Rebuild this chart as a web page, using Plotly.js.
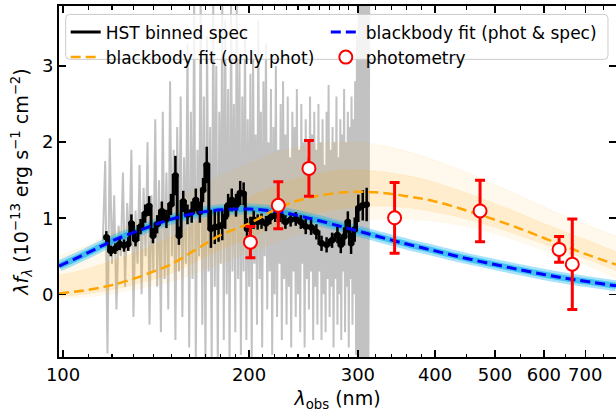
<!DOCTYPE html>
<html>
<head>
<meta charset="utf-8">
<script src="https://cdn.plot.ly/plotly-3.0.1.min.js"></script>
<style>html,body{margin:0;padding:0;background:#fff;}#chart{width:616px;height:415px;}</style>
</head>
<body>
<div id="chart"></div>
<script>
// ---- raw HST spectrum (grey), starts at 116 nm with 1 nm sampling ----
const rawStart = 116;
const rawStep = 1;
const rawFlux = [
 0.7, 1.75, -0.78, 2.05, 0.4, 1.3, -0.2, 0.9, 0.5, 1.6,
 0.1, 1.2, 0.6, 1.9, -0.3, 1.1, 0.4, 1.7, 0.0, 1.4,
 0.5, 2.0, -0.4, 1.3, 0.3, 2.3, 0.1, 1.5, -0.5, 2.4,
 0.2, 1.6, -0.2, 2.8, 0.5, 1.9, -0.6, 2.2, 0.3, 2.6,
 -0.3, 1.8, 0.4, 3.3, -0.7, 2.4, 0.2, 3.9, -0.9, 1.9,
 0.5, 4.0, -0.4, 2.6, -1.0, 3.4, 0.3, 2.2, -0.9, 4.0,
 0.1, 3.0, -1.0, 2.4, 0.4, 4.0, -0.6, 3.6, 0.0, 2.7,
 -1.0, 3.9, 0.3, 2.5, -0.5, 4.0, 0.2, 3.1, -0.8, 2.6,
 0.3, 3.5, -0.6, 2.3, 0.1, 2.9, -0.9, 3.2, 0.4, 2.1,
 -0.4, 3.6, 0.2, 2.4, -0.7, 2.8, 0.5, 3.3, -0.2, 2.0,
 0.3, 2.7, -0.8, 2.2, 0.0, 3.0, -0.3, 1.9, 0.4, 2.5,
 -0.6, 2.8, 0.2, 2.1, -0.4, 2.6, 0.1, 1.8, -0.7, 2.4,
 0.3, 2.2, -0.3, 2.7, 0.0, 1.9, -0.5, 2.5, 0.4, 2.0,
 -0.7, 2.3, 0.2, 1.8, -0.2, 2.6, 0.3, 2.1, -0.6, 2.4,
 0.1, 1.9, -0.4, 2.5, 0.3, 2.0, -0.6, 2.3, 0.0, 1.7,
 -0.5, 2.4, 0.2, 2.75, -0.3, 1.9, 0.1, 2.2, -0.7, 2.0,
 0.2, 2.6, -0.4, 1.8, 0.0, 2.3, -0.6, 2.1, 0.3, 2.7,
 -0.5, 2.0, 0.1, 2.4, -0.7, 2.2, 0.2, 2.6, -0.4, 2.3,
 0.0, 2.8, -0.8, 3.4, -1.0, 4.0, -1.0, 4.0, -1.0, 4.0,
 -1.0, 4.0, -1.0, 4.0, -1.0, 4.0, -1.0, 4.0
];

// ---- binned HST spectrum ----
const binWave = [117.5, 119.5, 121.5, 123.5, 125.5, 127.5, 129.0, 131.0, 133.5, 135.8,
 137.8, 139.8, 142.0, 144.5, 147.0, 149.5, 152.0, 154.0, 156.5, 159.0,
 161.5, 164.0, 166.5, 168.5, 170.8, 173.5, 176.0, 178.5, 181.0, 183.0,
 185.0, 187.5, 190.5, 193.5, 196.0, 198.5, 201.0, 203.5, 206.5, 209.5,
 213.0, 216.5, 220.5, 224.5, 229.0, 233.5, 238.0, 242.5, 247.0, 252.0,
 257.0, 262.0, 267.0, 272.5, 278.0, 281.5, 285.0, 289.0, 292.5, 296.5,
 300.5, 305.5, 310.0];
const binFlux = [0.75, 0.57, 0.60, 0.66, 0.64, 0.66, 0.93, 0.72, 0.89, 1.06,
 1.16, 0.77, 0.92, 1.09, 0.99, 1.18, 1.56, 0.77, 1.22, 1.05,
 1.08, 1.24, 1.08, 1.37, 1.70, 0.86, 0.88, 0.89, 0.91, 1.02,
 1.17, 1.24, 1.17, 1.33, 1.32, 0.86, 0.90, 0.98, 0.95, 0.96,
 0.93, 1.01, 1.04, 1.04, 0.95, 0.98, 0.99, 0.95, 0.89, 0.88,
 0.82, 0.67, 0.65, 0.71, 0.78, 0.65, 0.76, 0.95, 0.67, 0.85,
 1.13, 1.17, 1.18];
const binErr = [0.08, 0.07, 0.07, 0.08, 0.08, 0.09, 0.12, 0.09, 0.10, 0.12,
 0.13, 0.10, 0.12, 0.13, 0.12, 0.14, 0.26, 0.12, 0.14, 0.13,
 0.14, 0.15, 0.14, 0.16, 0.24, 0.25, 0.22, 0.20, 0.20, 0.16,
 0.15, 0.15, 0.15, 0.16, 0.15, 0.14, 0.12, 0.12, 0.10, 0.10,
 0.10, 0.09, 0.09, 0.09, 0.09, 0.09, 0.09, 0.09, 0.10, 0.10,
 0.10, 0.10, 0.10, 0.10, 0.11, 0.11, 0.12, 0.14, 0.14, 0.16,
 0.18, 0.20, 0.22];

// ---- blackbody curves ----
const bbWave = [98.5, 110, 120, 135, 150, 165, 180, 200, 225, 250, 285, 320, 360, 400, 450, 500, 550, 600, 650, 700, 785];
const blueFit   = [0.37, 0.55, 0.70, 0.86, 0.99, 1.07, 1.11, 1.12, 1.08, 1.00, 0.88, 0.77, 0.66, 0.57, 0.47, 0.39, 0.32, 0.26, 0.21, 0.17, 0.11];
const orangeFit = [0.01, 0.06, 0.12, 0.25, 0.40, 0.60, 0.78, 0.93, 1.15, 1.27, 1.34, 1.34, 1.29, 1.22, 1.10, 0.98, 0.86, 0.74, 0.63, 0.53, 0.39];
const orangeHiOuter = [0.50, 0.65, 0.80, 1.00, 1.20, 1.40, 1.56, 1.72, 1.87, 1.96, 2.00, 1.97, 1.88, 1.76, 1.60, 1.44, 1.29, 1.15, 1.02, 0.92, 0.76];
const orangeLoOuter = [-0.06, -0.04, 0.00, 0.08, 0.16, 0.28, 0.40, 0.54, 0.70, 0.82, 0.93, 0.98, 0.98, 0.95, 0.88, 0.79, 0.68, 0.57, 0.47, 0.38, 0.20];
const orangeHiInner = [0.25, 0.34, 0.44, 0.59, 0.76, 0.95, 1.13, 1.28, 1.45, 1.56, 1.63, 1.62, 1.56, 1.47, 1.33, 1.19, 1.06, 0.93, 0.82, 0.72, 0.56];
const orangeLoInner = [-0.03, 0.01, 0.06, 0.16, 0.28, 0.44, 0.59, 0.74, 0.92, 1.04, 1.13, 1.16, 1.14, 1.08, 0.99, 0.88, 0.77, 0.66, 0.56, 0.47, 0.31];

// ---- photometry ----
const photWave = [201, 223, 250, 344, 473, 635, 667];
const photFlux = [0.685, 1.17, 1.655, 1.005, 1.095, 0.59, 0.395];
const photErr  = [0.205, 0.31, 0.365, 0.465, 0.405, 0.17, 0.595];

// ---- ticks ----
const xTickVals = [100, 200, 300, 400, 500, 600, 700];
const xTickText = ['100', '200', '300', '400', '500', '600', '700'];
const xMinorVals = [110, 120, 130, 140, 150, 160, 170, 180, 190, 210, 220, 230, 240, 250, 260, 270, 280, 290, 320, 340, 360, 380, 450, 550, 650, 750];
const yTickVals = [0, 1, 2, 3];
const yTickText = ['0', '1', '2', '3'];

const traces = [];
traces.push({type:'scatter', mode:'lines', x0: rawStart, dx: rawStep, y: rawFlux,
  line:{color:'rgb(194,194,194)', width:2}, showlegend:false, hoverinfo:'skip'});
traces.push({type:'scatter', mode:'lines', x: bbWave, y: orangeLoOuter, line:{width:0, shape:'spline', color:'rgba(0,0,0,0)'}, showlegend:false, hoverinfo:'skip'});
traces.push({type:'scatter', mode:'lines', x: bbWave, y: orangeHiOuter, fill:'tonexty', fillcolor:'rgba(255,165,0,0.07)', line:{width:0.8, shape:'spline', color:'rgba(255,165,0,0.10)'}, showlegend:false, hoverinfo:'skip'});
traces.push({type:'scatter', mode:'lines', x: bbWave, y: orangeLoInner, line:{width:0.8, shape:'spline', color:'rgba(255,165,0,0.12)'}, showlegend:false, hoverinfo:'skip'});
traces.push({type:'scatter', mode:'lines', x: bbWave, y: orangeHiInner, fill:'tonexty', fillcolor:'rgba(255,165,0,0.13)', line:{width:0.8, shape:'spline', color:'rgba(255,165,0,0.12)'}, showlegend:false, hoverinfo:'skip'});
traces.push({type:'scatter', mode:'lines', x: bbWave, y: blueFit, line:{width:11, shape:'spline', color:'rgba(0,176,240,0.35)'}, showlegend:false, hoverinfo:'skip'});
traces.push({type:'scatter', mode:'lines', x: bbWave, y: blueFit, line:{width:6, shape:'spline', color:'rgba(0,170,240,0.6)'}, showlegend:false, hoverinfo:'skip'});
traces.push({type:'scatter', mode:'lines', x: binWave, y: binFlux, name:'HST binned spec', legend:'legend',
  line:{color:'black', width:3, shape:'hvh'}});
traces.push({type:'scatter', mode:'markers', x: binWave, y: binFlux, showlegend:false,
  marker:{color:'black', size:6.5},
  error_y:{type:'data', array: binErr, visible:true, color:'black', thickness:2.5, width:0}});
traces.push({type:'scatter', mode:'lines', x: bbWave, y: orangeFit, name:'blackbody fit (only phot)', legend:'legend',
  line:{color:'#FFA500', width:2.5, dash:'10px,5px', shape:'spline'}});
traces.push({type:'scatter', mode:'lines', x: bbWave, y: blueFit, name:'blackbody fit (phot & spec)', legend:'legend2',
  line:{color:'#0000FF', width:3, dash:'10px,5px', shape:'spline'}});
traces.push({type:'scatter', mode:'markers', x: photWave, y: photFlux, name:'photometry', legend:'legend2',
  marker:{symbol:'circle', size:13, color:'white', line:{color:'red', width:2}},
  error_y:{type:'data', array: photErr, visible:true, color:'red', thickness:3, width:5}});

const axisCommon = {
  ticks:'inside', ticklen:7, tickwidth:1.5, tickcolor:'black',
  showline:true, linewidth:2, linecolor:'black', mirror:'allticks',
  showgrid:false, zeroline:false, tickfont:{size:18, color:'black'}
};

// legend frame (paper coords)
const bx0 = 0.012, bx1 = 0.9856, by0 = 0.848, by1 = 0.976, rx = 0.007, ry = 0.011;
const framePath = `M ${bx0+rx},${by0} L ${bx1-rx},${by0} Q ${bx1},${by0} ${bx1},${by0+ry} L ${bx1},${by1-ry} Q ${bx1},${by1} ${bx1-rx},${by1} L ${bx0+rx},${by1} Q ${bx0},${by1} ${bx0},${by1-ry} L ${bx0},${by0+ry} Q ${bx0},${by0} ${bx0+rx},${by0} Z`;

const legendCommon = {orientation:'v', yanchor:'top', xanchor:'left', y:0.976,
  bgcolor:'rgba(0,0,0,0)', borderwidth:0, font:{size:17, color:'black'}, traceorder:'normal', tracegroupgap:0};

const layout = {
  width:616, height:415,
  margin:{l:59, r:0, t:6, b:58},
  paper_bgcolor:'white', plot_bgcolor:'white',
  font:{family:'DejaVu Sans, sans-serif', color:'black', size:18},
  showlegend:true,
  xaxis: Object.assign({}, axisCommon, {
    type:'log', range:[Math.log10(98.5), Math.log10(785)],
    tickmode:'array', tickvals:xTickVals, ticktext:xTickText,
    minor:{tickmode:'array', tickvals:xMinorVals, ticks:'inside', ticklen:3.5, tickwidth:1.2, tickcolor:'black', showgrid:false},
    title:{text:'<i>λ</i><sub>obs</sub> (nm)', font:{size:19}, standoff:8}
  }),
  yaxis: Object.assign({}, axisCommon, {
    range:[-0.825, 3.79], tickmode:'array', tickvals:yTickVals, ticktext:yTickText,
    title:{text:'<i>λf</i><sub><i>λ</i></sub> (10<sup>−13</sup> erg s<sup>−1</sup> cm<sup>−2</sup>)', font:{size:19}, standoff:8}
  }),
  shapes:[{type:'path', xref:'paper', yref:'paper', path:framePath, layer:'above',
    fillcolor:'rgba(255,255,255,0.8)', line:{color:'#cccccc', width:1}}],
  legend: Object.assign({}, legendCommon, {x:0.012}),
  legend2: Object.assign({}, legendCommon, {x:0.479})
};

Plotly.newPlot('chart', traces, layout, {staticPlot:true, displayModeBar:false});
</script>
</body>
</html>
